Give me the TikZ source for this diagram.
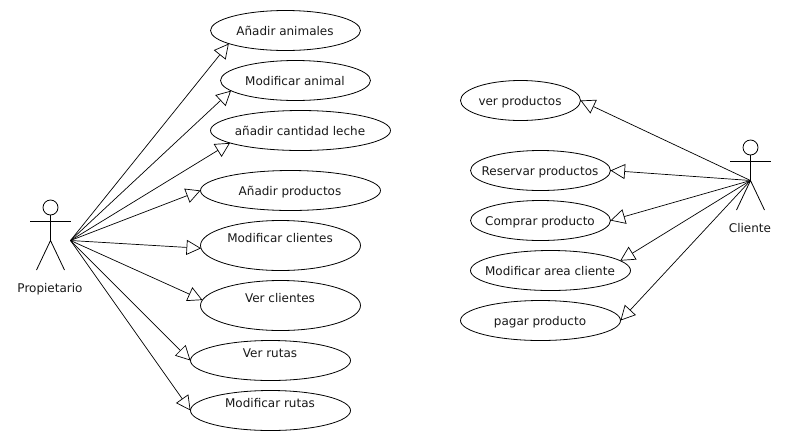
\documentclass[tikz,border=0pt]{standalone}
\usepackage{fontspec}
\setmainfont{DejaVu Sans}
\usetikzlibrary{arrows.meta,shapes.geometric}
\tikzset{
  lbl/.style={inner sep=0pt,font=\fontsize{12}{14}\selectfont,text=black!90,text height=9pt,text depth=3pt},
  uc/.style={draw=black,ellipse,inner sep=0pt,outer sep=0pt,line width=0.8pt},
  fig/.style={draw=black,line width=0.8pt},
  link/.style={draw=black,line width=0.7pt,-{Triangle[open,length=14.5pt,width=15pt,line width=0.7pt]}}
}
\begin{document}
\begin{tikzpicture}[x=1pt,y=-1pt]
\useasboundingbox (0,0) rectangle (790,440);
\fill[white] (0,0) rectangle (790,440);
% use cases left
\node[uc,minimum width=150pt,minimum height=40pt] (a1) at (285.5,30.5) {};
\node[lbl] (t1) at (285,32) {Añadir animales};
\node[uc,minimum width=150pt,minimum height=40pt] (a2) at (295.5,80.5) {};
\node[lbl] (t2) at (295,82) {Modificar animal};
\node[uc,minimum width=180pt,minimum height=40pt] (a3) at (300.5,130.5) {};
\node[lbl] (t3) at (300,132) {añadir cantidad leche};
\node[uc,minimum width=180pt,minimum height=40pt] (a4) at (290.5,190.5) {};
\node[lbl] (t4) at (290,192) {Añadir productos};
\node[uc,minimum width=160pt,minimum height=50pt] (a5) at (280.5,245.5) {};
\node[lbl] (t5) at (280,239) {Modificar clientes};
\node[uc,minimum width=160pt,minimum height=50pt] (a6) at (280.5,305.5) {};
\node[lbl] (t6) at (280,299) {Ver clientes};
\node[uc,minimum width=160pt,minimum height=40pt] (a7) at (270.5,360.5) {};
\node[lbl] (t7) at (270,354) {Ver rutas};
\node[uc,minimum width=160pt,minimum height=40pt] (a8) at (270.5,410.5) {};
\node[lbl] (t8) at (270,404) {Modificar rutas};
% use cases right
\node[uc,minimum width=120pt,minimum height=40pt] (b1) at (520.5,100.5) {};
\node[lbl] (u1) at (520,102) {ver productos};
\node[uc,minimum width=140pt,minimum height=40pt] (b2) at (540.5,170.5) {};
\node[lbl] (u2) at (540,172) {Reservar productos};
\node[uc,minimum width=140pt,minimum height=40pt] (b3) at (540.5,220.5) {};
\node[lbl] (u3) at (540,222) {Comprar producto};
\node[uc,minimum width=160pt,minimum height=40pt] (b4) at (550.5,270.5) {};
\node[lbl] (u4) at (550,272) {Modificar area cliente};
\node[uc,minimum width=160pt,minimum height=40pt] (b5) at (540.5,320.5) {};
\node[lbl] (u5) at (540,322) {pagar producto};
% actors
\node[draw=black,circle,line width=0.8pt,minimum size=15pt,inner sep=0pt] (h1) at (50.5,207.5) {};
\coordinate (p) at (50.5,240.5);
\coordinate (p1) at (70.5,240.5);
\draw[fig] (h1.south) -- (p);
\draw[fig] (30,221) -- (71,221);
\draw[fig] (36.5,270) -- (p) -- (64.5,270);
\node[lbl] (tp) at (50,289) {Propietario};
\node[draw=black,circle,line width=0.8pt,minimum size=15pt,inner sep=0pt] (h2) at (750.5,147.5) {};
\coordinate (c) at (750.5,180.5);
\draw[fig] (h2.south) -- (c);
\draw[fig] (730,161) -- (771,161);
\draw[fig] (736.5,210) -- (c) -- (764.5,210);
\node[lbl] (tc) at (750,229) {Cliente};
% connectors
\draw[link] (p1) -- (a1.193);
\draw[link] (p1) -- (a2.189);
\draw[link] (p1) -- (a3.190);
\draw[link] (p1) -- (a4.west);
\draw[link] (p1) -- (a5.182);
\draw[link] (p1) -- (a6.176);
\draw[link] (p1) -- (a7.west);
\draw[link] (p1) -- (a8.west);
\draw[link] (c) -- (b1.east);
\draw[link] (c) -- (b2.east);
\draw[link] (c) -- (b3.east);
\draw[link] (c) -- (b4.8);
\draw[link] (c) -- (b5.east);
\end{tikzpicture}
\end{document}
